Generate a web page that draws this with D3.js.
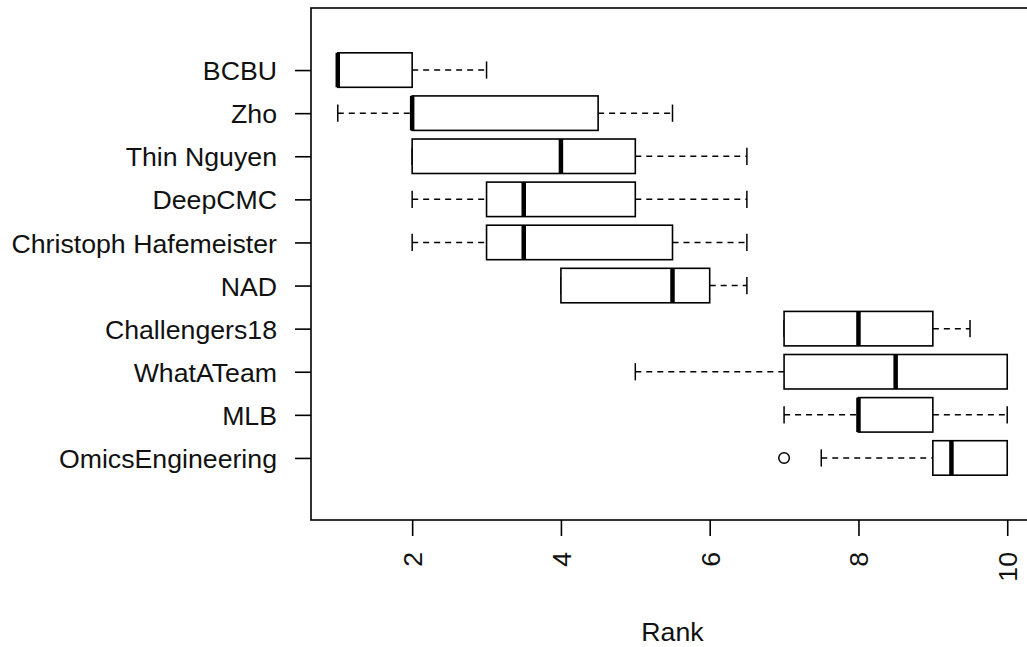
<!DOCTYPE html>
<html>
<head>
<meta charset="utf-8">
<script src="https://cdn.jsdelivr.net/npm/d3@7"></script>
<style>
  html, body { margin: 0; padding: 0; background: #fff; }
  svg { display: block; }
  text { font-family: "Liberation Sans", Arial, Helvetica, sans-serif; fill: #111; }
</style>
</head>
<body>
<svg id="chart" width="1027" height="647"></svg>
<script>
// Rank summaries per team (top to bottom): whisker ends, quartiles, median
const teams = ["BCBU", "Zho", "Thin Nguyen", "DeepCMC", "Christoph Hafemeister",
               "NAD", "Challengers18", "WhatATeam", "MLB", "OmicsEngineering"];
const lowWhisker  = [1,   1,   2,   2,   2,   4,   7,   5,   7,   7.5];
const lowerQuart  = [1,   2,   2,   3,   3,   4,   7,   7,   8,   9];
const medians     = [1,   2,   4,   3.5, 3.5, 5.5, 8,   8.5, 8,   9.25];
const upperQuart  = [2,   4.5, 5,   5,   5.5, 6,   9,   10,  9,   10];
const highWhisker = [3,   5.5, 6.5, 6.5, 6.5, 6.5, 9.5, 10,  10,  10];
const outliers    = [{ team: "OmicsEngineering", value: 7 }];
const xTicks = [2, 4, 6, 8, 10];
const xTitle = "Rank";

const rows = teams.map((t, i) => ({
  team: t, idx: i + 1,
  lo: lowWhisker[i], q1: lowerQuart[i], med: medians[i],
  q3: upperQuart[i], hi: highWhisker[i]
}));

const FS = "26.7px";
const svg = d3.select("#chart");
const plot = { left: 311, right: 1034, top: 8, bottom: 520 };

// R-style limits: data range padded by 4% on each side
const x = d3.scaleLinear().domain([0.64, 10.36]).range([plot.left, plot.right]);
const y = d3.scaleLinear().domain([-0.44, 11.44]).range([plot.top, plot.bottom]);

const band = y(1) - y(0);
const boxHalf = band * 0.4;
const stapleHalf = boxHalf * 0.5;

// Plot frame
svg.append("rect")
  .attr("x", plot.left).attr("y", plot.top)
  .attr("width", plot.right - plot.left).attr("height", plot.bottom - plot.top)
  .attr("fill", "none").attr("stroke", "#000").attr("stroke-width", 1.6);

// Bottom axis
const xAxis = svg.append("g")
  .attr("transform", `translate(0,${plot.bottom})`)
  .call(d3.axisBottom(x).tickValues(xTicks).tickSize(16).tickSizeOuter(0).tickFormat(d3.format("d")));
xAxis.select(".domain").remove();
xAxis.selectAll(".tick line").attr("stroke", "#000").attr("stroke-width", 1.6);
xAxis.selectAll(".tick text")
  .attr("transform", "translate(0,32) rotate(-90)")
  .attr("x", 0).attr("y", 0).attr("dy", "0.35em")
  .attr("text-anchor", "end")
  .style("font-size", FS).attr("font-family", null).attr("fill", null);

// Left axis with team names
const yAxis = svg.append("g")
  .attr("transform", `translate(${plot.left},0)`)
  .call(d3.axisLeft(y).tickValues(rows.map(r => r.idx)).tickSize(16).tickSizeOuter(0)
        .tickPadding(18).tickFormat(i => teams[i - 1]));
yAxis.select(".domain").remove();
yAxis.selectAll(".tick line").attr("stroke", "#000").attr("stroke-width", 1.6);
yAxis.selectAll(".tick text")
  .attr("dy", "0.36em")
  .style("font-size", FS).attr("font-family", null).attr("fill", null);

// Boxes
const g = svg.append("g");
const box = g.selectAll("g.box").data(rows).join("g").attr("class", "box");

// dashed whiskers
box.append("line")
  .attr("x1", d => x(d.lo)).attr("x2", d => x(d.q1))
  .attr("y1", d => y(d.idx)).attr("y2", d => y(d.idx))
  .attr("stroke", "#000").attr("stroke-width", 1.5).attr("stroke-dasharray", "6,5");
box.append("line")
  .attr("x1", d => x(d.q3)).attr("x2", d => x(d.hi))
  .attr("y1", d => y(d.idx)).attr("y2", d => y(d.idx))
  .attr("stroke", "#000").attr("stroke-width", 1.5).attr("stroke-dasharray", "6,5");

// staples
["lo", "hi"].forEach(k => {
  box.append("line")
    .attr("x1", d => x(d[k])).attr("x2", d => x(d[k]))
    .attr("y1", d => y(d.idx) - stapleHalf).attr("y2", d => y(d.idx) + stapleHalf)
    .attr("stroke", "#000").attr("stroke-width", 1.5);
});

// interquartile box
box.append("rect")
  .attr("x", d => x(d.q1)).attr("width", d => x(d.q3) - x(d.q1))
  .attr("y", d => y(d.idx) - boxHalf).attr("height", boxHalf * 2)
  .attr("fill", "#fff").attr("stroke", "#000").attr("stroke-width", 1.6);

// median
box.append("line")
  .attr("x1", d => x(d.med)).attr("x2", d => x(d.med))
  .attr("y1", d => y(d.idx) - boxHalf).attr("y2", d => y(d.idx) + boxHalf)
  .attr("stroke", "#000").attr("stroke-width", 4.5);

// outliers
g.selectAll("circle.out").data(outliers).join("circle")
  .attr("class", "out")
  .attr("cx", d => x(d.value))
  .attr("cy", d => y(teams.indexOf(d.team) + 1))
  .attr("r", 5.3)
  .attr("fill", "none").attr("stroke", "#000").attr("stroke-width", 1.5);

// Axis title
svg.append("text")
  .attr("x", (plot.left + plot.right) / 2).attr("y", 641)
  .attr("text-anchor", "middle")
  .style("font-size", FS)
  .text(xTitle);
</script>
</body>
</html>
